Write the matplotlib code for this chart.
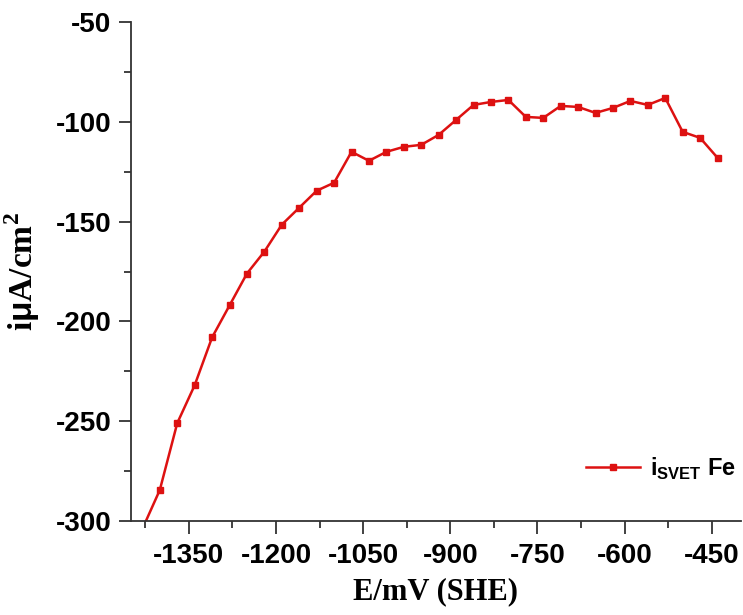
import matplotlib.pyplot as plt

plt.rcParams['axes.unicode_minus'] = False
plt.rcParams['mathtext.fontset'] = 'custom'
plt.rcParams['mathtext.bf'] = 'Liberation Sans:bold'
plt.rcParams['mathtext.rm'] = 'Liberation Serif:bold'

# potential (mV vs SHE) and SVET current density (uA/cm2)
potential = [-1430, -1400, -1370, -1340, -1310, -1280, -1250, -1220, -1190, -1160,
             -1130, -1100, -1070, -1040, -1010, -980, -950, -920, -890, -860,
             -830, -800, -770, -740, -710, -680, -650, -620, -590, -560,
             -530, -500, -470, -440]
current = [-304, -284.5, -251, -232, -208, -192, -176, -165, -151.5, -143,
           -134.5, -130.5, -115, -119.5, -115, -112.5, -111.5, -106.5, -99, -91.5,
           -90, -89, -97.5, -98, -92, -92.5, -95.5, -93, -89.5, -91.5,
           -88, -105, -108, -118]
xticks = [-1350, -1200, -1050, -900, -750, -600, -450]
yticks = [-300, -250, -200, -150, -100, -50]

sans = ['Liberation Sans', 'DejaVu Sans']
serif = ['Liberation Serif', 'DejaVu Serif']

fig = plt.figure(figsize=(7.43, 6.15), dpi=100)
ax = fig.add_axes([0.176, 0.153, 0.821, 0.811])

ax.plot(potential, current, color='#dd1111', lw=1.8, marker='s', ms=5,
        label=r'i$_{\mathbf{SVET}}$ Fe')

ax.set_xticks(xticks)
ax.set_yticks(yticks)
ax.set_xticks([t - 75 for t in xticks] + [-375], minor=True)
ax.set_yticks([t + 25 for t in yticks[:-1]], minor=True)
ax.set_xlim(-1450, -400)
ax.set_ylim(-300, -50)

for s in ['top', 'right']:
    ax.spines[s].set_visible(False)
for s in ['left', 'bottom']:
    ax.spines[s].set_linewidth(1.3)
    ax.spines[s].set_color('#333333')

ax.tick_params(which='major', direction='out', length=9, width=1.3, color='#333333')
ax.tick_params(which='minor', direction='out', length=5, width=1.3, color='#333333')
ax.tick_params(axis='x', pad=7)
ax.tick_params(axis='y', pad=5)
for lab in ax.get_xticklabels() + ax.get_yticklabels():
    lab.set_family(sans)
    lab.set_fontweight('bold')
    lab.set_fontsize(20)

ax.set_xlabel('E/mV (SHE)', family=serif, fontweight='bold', fontsize=22, labelpad=6)
ax.set_ylabel(r'i$\mathbf{\mu}$A/cm$^{\mathrm{2}}$', family=serif, fontweight='bold',
              fontsize=24, labelpad=10)

leg = ax.legend(loc='lower right', bbox_to_anchor=(1.015, 0.05), frameon=False,
                prop={'family': sans, 'weight': 'bold', 'size': 17},
                handlelength=2.3, handletextpad=0.4, numpoints=1, borderaxespad=0.2)

plt.savefig('out.png', dpi=100)
